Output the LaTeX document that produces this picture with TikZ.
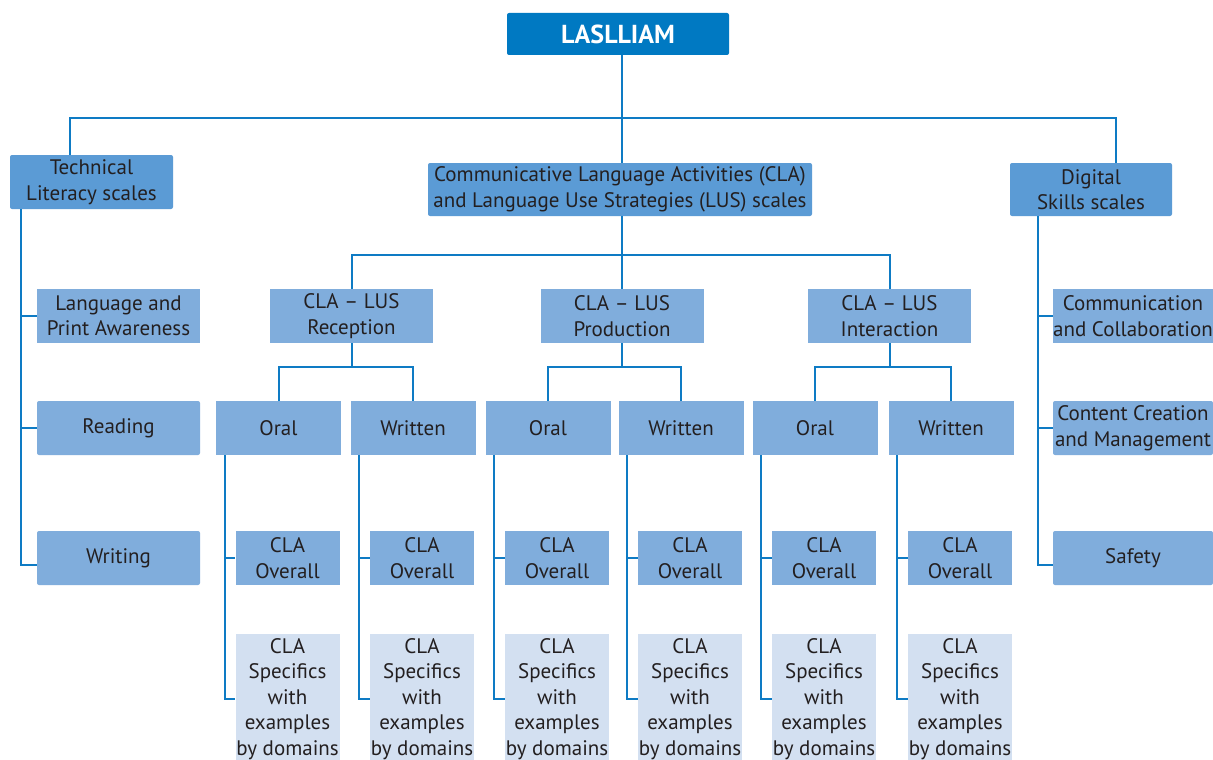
\documentclass[tikz,border=0pt]{standalone}
\usepackage{fontspec}
\setmainfont{PT Sans}
\usetikzlibrary{calc}
\usepackage{xcolor}
\definecolor{topblue}{HTML}{0079C2}
\definecolor{midblue}{HTML}{5B9BD5}
\definecolor{lightblue}{HTML}{80ADDC}
\definecolor{paleblue}{HTML}{D3E0F1}
\definecolor{linkblue}{HTML}{0E7BC4}
\definecolor{ink}{HTML}{231F20}
\tikzset{
 box/.style={inner sep=0, align=center, text=ink, font=\fontsize{21}{25.5}\selectfont},
 topbox/.style={box, fill=topblue, rounded corners=2, text=white, font=\fontsize{26}{30}\selectfont\bfseries, minimum width=222, minimum height=42},
 scalebox/.style={box, fill=midblue, rounded corners=2, minimum width=163, minimum height=54},
 subbox/.style={box, fill=lightblue, minimum width=163, minimum height=54},
 specbox/.style={box, fill=paleblue, minimum width=104, minimum height=130},
 link/.style={draw=linkblue, line width=2pt}
}

\begin{document}
\begin{tikzpicture}[x=1pt,y=-1pt]
\clip (0,0) rectangle (1213,760);
\fill[white] (0,0) rectangle (1213,760);

% top levels
\node[topbox] (top) at (618,34) {LASLLIAM};
\node[scalebox] (tech) at (91.5,182) {Technical\\Literacy scales};
\node[scalebox, minimum width=384, minimum height=53] (cla) at (620,189.5) {Communicative Language Activities (CLA)\\and Language Use Strategies (LUS) scales};
\node[scalebox, minimum width=162, minimum height=53] (digi) at (1091,189.5) {Digital\\Skills scales};
\coordinate (bus1) at (622,118);
\coordinate (bus2) at (622,255);
\draw[link] (top.south -| bus1) -- (cla.north -| bus1);
\draw[link] ([xshift=-21.5]tech.north) |- (bus1) -| ([xshift=25]digi.north);

% technical literacy
\node[subbox, rounded corners=0] (lang) at (118.5,316) {Language and\\Print Awareness};
\node[subbox, rounded corners=2] (read) at (118.5,428) {Reading};
\node[subbox, rounded corners=2] (writ) at (118.5,558) {Writing};
\draw[link] ([xshift=11]tech.south west) |- (lang.west);
\draw[link] ([xshift=11]tech.south west) |- (read.west);
\draw[link] ([xshift=11]tech.south west) |- ([yshift=-7]writ.west);

% digital skills
\node[subbox, minimum width=160] (comm) at (1133,316) {Communication\\and Collaboration};
\node[subbox, minimum width=160, rounded corners=2] (cont) at (1133,428) {Content Creation\\and Management};
\node[subbox, minimum width=160, rounded corners=2] (safe) at (1133,558) {Safety};
\draw[link] ([xshift=28]digi.south west) |- (comm.west);
\draw[link] ([xshift=28]digi.south west) |- (cont.west);
\draw[link] ([xshift=28]digi.south west) |- ([yshift=-7]safe.west);

% CLA - LUS branches
\draw[link] (cla.south -| bus2) -- (bus2);
\foreach \grp/\cx/\ox/\wx/\lbl in {rec/351.5/278.5/413/Reception, prod/622/548/681/Production, inter/889.5/815/951/Interaction} {
 \node[subbox] (\grp) at (\cx,316) {CLA – LUS\\\lbl};
 \draw[link] (\grp.north) |- (bus2);
 \draw[link] (\grp.south) -- ++(0,24) coordinate (\grp-bus);
 \foreach \kind/\sx in {Oral/\ox, Written/\wx} {
  \node[subbox, minimum width=125] (\grp-\kind) at (\sx,428) {\kind};
  \draw[link] (\grp-\kind.north) |- (\grp-bus);
  \node[subbox, minimum width=104] (\grp-\kind-ovr) at (\sx+9,558) {CLA\\Overall};
  \node[specbox] (\grp-\kind-spec) at (\sx+9,699) {CLA\\Specifics\\with\\examples\\by domains};
  \draw[link] ([xshift=9]\grp-\kind.south west) |- (\grp-\kind-ovr.west);
  \draw[link] ([xshift=9]\grp-\kind.south west) |- (\grp-\kind-spec.west);
 }
}
\end{tikzpicture}
\end{document}
